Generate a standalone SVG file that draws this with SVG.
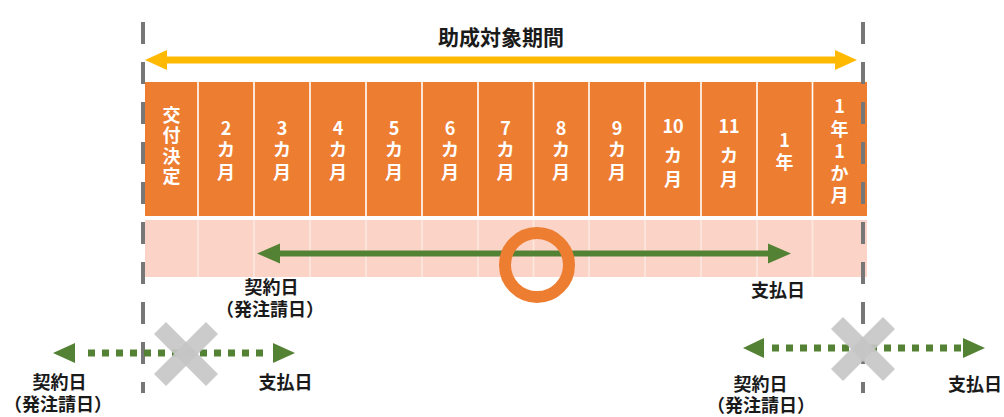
<svg xmlns="http://www.w3.org/2000/svg" width="1004" height="417" viewBox="0 0 1004 417">
<style>
text{font-family:"Noto Sans CJK JP","Noto Sans",sans-serif;font-weight:bold}
.col{fill:#ffffff;font-size:18px;text-anchor:middle}
.lbl{fill:#1a1a1a;font-size:18px;text-anchor:middle}
.title{fill:#1a1a1a;font-size:21px;text-anchor:middle}
.div{stroke:#ffffff;stroke-width:1.6}
.pdiv{stroke:#fde8e0;stroke-width:1.6}
.vdash{stroke:#777777;stroke-width:4;stroke-dasharray:22 18;fill:none}
.green{stroke:#548235;stroke-width:6;fill:none}
.gdot{stroke:#548235;stroke-width:7;stroke-dasharray:7 7;fill:none}
.ghead{fill:#548235}
.cross{stroke:#c6c6c6;stroke-width:17;opacity:0.9}
</style>
<rect width="1004" height="417" fill="#ffffff"/>

<g id="bars">
  <rect x="145" y="82" width="722" height="134" fill="#ED7D31"/>
  <rect x="145" y="220" width="722" height="57" fill="#FBD4C7"/>
  <g class="div">
    <line x1="198" y1="82" x2="198" y2="216"/><line x1="254" y1="82" x2="254" y2="216"/>
    <line x1="310" y1="82" x2="310" y2="216"/><line x1="366" y1="82" x2="366" y2="216"/>
    <line x1="422" y1="82" x2="422" y2="216"/><line x1="478" y1="82" x2="478" y2="216"/>
    <line x1="533.5" y1="82" x2="533.5" y2="216"/><line x1="589" y1="82" x2="589" y2="216"/>
    <line x1="645" y1="82" x2="645" y2="216"/><line x1="701" y1="82" x2="701" y2="216"/>
    <line x1="757" y1="82" x2="757" y2="216"/><line x1="812.5" y1="82" x2="812.5" y2="216"/>
  </g>
  <g class="pdiv">
    <line x1="198" y1="220" x2="198" y2="277"/><line x1="254" y1="220" x2="254" y2="277"/>
    <line x1="310" y1="220" x2="310" y2="277"/><line x1="366" y1="220" x2="366" y2="277"/>
    <line x1="422" y1="220" x2="422" y2="277"/><line x1="478" y1="220" x2="478" y2="277"/>
    <line x1="533.5" y1="220" x2="533.5" y2="277"/><line x1="589" y1="220" x2="589" y2="277"/>
    <line x1="645" y1="220" x2="645" y2="277"/><line x1="701" y1="220" x2="701" y2="277"/>
    <line x1="757" y1="220" x2="757" y2="277"/><line x1="812.5" y1="220" x2="812.5" y2="277"/>
  </g>
</g>

<g id="columns">
  <text class="col" x="171.5"><tspan x="171.5" y="121.5">交</tspan><tspan x="171.5" y="142">付</tspan><tspan x="171.5" y="162.5">決</tspan><tspan x="171.5" y="183">定</tspan></text>
  <text class="col"><tspan x="226" y="135">2</tspan><tspan x="226" y="156">カ</tspan><tspan x="226" y="178.5">月</tspan></text>
  <text class="col"><tspan x="282" y="135">3</tspan><tspan x="282" y="156">カ</tspan><tspan x="282" y="178.5">月</tspan></text>
  <text class="col"><tspan x="338" y="135">4</tspan><tspan x="338" y="156">カ</tspan><tspan x="338" y="178.5">月</tspan></text>
  <text class="col"><tspan x="394" y="135">5</tspan><tspan x="394" y="156">カ</tspan><tspan x="394" y="178.5">月</tspan></text>
  <text class="col"><tspan x="450" y="135">6</tspan><tspan x="450" y="156">カ</tspan><tspan x="450" y="178.5">月</tspan></text>
  <text class="col"><tspan x="505.5" y="135">7</tspan><tspan x="505.5" y="156">カ</tspan><tspan x="505.5" y="178.5">月</tspan></text>
  <text class="col"><tspan x="561" y="135">8</tspan><tspan x="561" y="156">カ</tspan><tspan x="561" y="178.5">月</tspan></text>
  <text class="col"><tspan x="617" y="135">9</tspan><tspan x="617" y="156">カ</tspan><tspan x="617" y="178.5">月</tspan></text>
  <text class="col"><tspan x="673" y="133">10</tspan><tspan x="673" y="162">カ</tspan><tspan x="673" y="185.5">月</tspan></text>
  <text class="col"><tspan x="729" y="133">11</tspan><tspan x="729" y="162">カ</tspan><tspan x="729" y="185.5">月</tspan></text>
  <text class="col"><tspan x="784.5" y="147">1</tspan><tspan x="784.5" y="168.5">年</tspan></text>
  <text class="col"><tspan x="839.5" y="113">1</tspan><tspan x="839.5" y="135.5">年</tspan><tspan x="839.5" y="158">1</tspan><tspan x="839.5" y="180">か</tspan><tspan x="839.5" y="201.5">月</tspan></text>
</g>

<g id="connectors">
  <line class="vdash" x1="143" y1="22" x2="143" y2="393"/>
  <line class="vdash" x1="863" y1="22" x2="863" y2="393"/>
  <line x1="164" y1="60" x2="838" y2="60" stroke="#FFB900" stroke-width="7"/>
  <polygon points="145,60 167,50 167,70" fill="#FFB900"/>
  <polygon points="857,60 835,50 835,70" fill="#FFB900"/>
  <line class="green" x1="276" y1="253.5" x2="772" y2="253.5"/>
  <polygon class="ghead" points="257,253.5 280,243.5 280,263.5"/>
  <polygon class="ghead" points="791,253.5 768,243.5 768,263.5"/>
  <line class="gdot" x1="88" y1="353" x2="270" y2="353"/>
  <polygon class="ghead" points="53,353 75,343 75,363"/>
  <polygon class="ghead" points="295,353 273,343 273,363"/>
  <line class="gdot" x1="772" y1="348" x2="962" y2="348"/>
  <polygon class="ghead" points="743,348 764,338 764,358"/>
  <polygon class="ghead" points="985,348 963,338 963,358"/>
</g>

<g id="title"><text class="title" x="501" y="45">助成対象期間</text></g>

<g id="highlight"><circle cx="537" cy="265" r="32" fill="none" stroke="#ED7D31" stroke-width="12"/></g>

<g id="cross-left"><line class="cross" x1="160" y1="328" x2="212" y2="380"/><line class="cross" x1="212" y1="328" x2="160" y2="380"/></g>
<g id="cross-right"><line class="cross" x1="837" y1="323" x2="889" y2="375"/><line class="cross" x1="889" y1="323" x2="837" y2="375"/></g>

<g id="labels">
  <text class="lbl"><tspan x="271.5" y="294">契約日</tspan><tspan x="270" y="316">（発注請日）</tspan></text>
  <text class="lbl" x="778" y="297">支払日</text>
  <text class="lbl"><tspan x="59.5" y="389">契約日</tspan><tspan x="58" y="411">（発注請日）</tspan></text>
  <text class="lbl" x="285.5" y="389">支払日</text>
  <text class="lbl"><tspan x="760.5" y="391">契約日</tspan><tspan x="761" y="412">（発注請日）</tspan></text>
  <text class="lbl" x="975" y="391">支払日</text>
</g>
</svg>
